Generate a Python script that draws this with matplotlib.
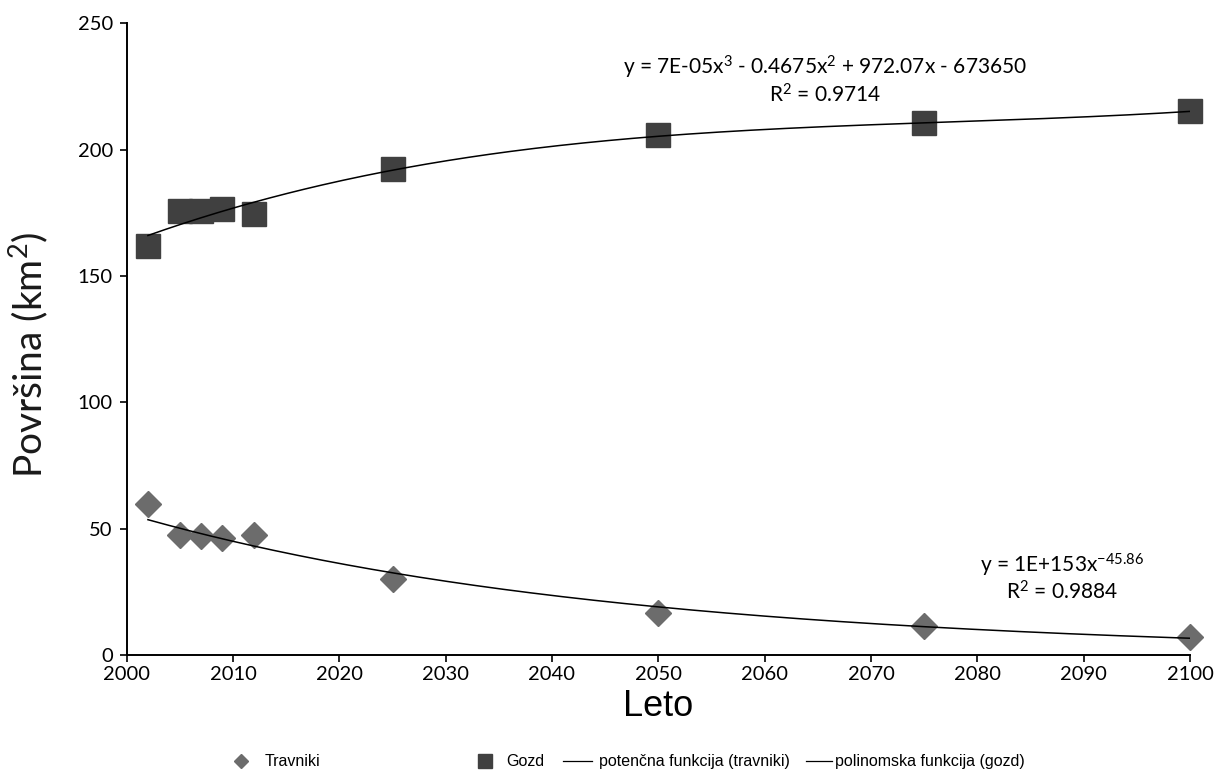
import numpy as np
import matplotlib
matplotlib.use("Agg")
import matplotlib.pyplot as plt
from matplotlib.lines import Line2D

years = [2002, 2005, 2007, 2009, 2012, 2025, 2050, 2075, 2100]
gozd = [161.8, 175.6, 175.6, 176.4, 174.4, 192.2, 205.7, 210.4, 215.2]
travniki = [59.7, 47.5, 47.0, 46.3, 47.5, 30.0, 16.6, 11.5, 7.1]

xticks = list(range(2000, 2101, 10))
yticks = [0, 50, 100, 150, 200, 250]

plt.rcParams['font.family'] = ['Lato', 'DejaVu Sans']
plt.rcParams['mathtext.fontset'] = 'custom'
plt.rcParams['mathtext.rm'] = 'Lato'
plt.rcParams['mathtext.it'] = 'Lato'
plt.rcParams['mathtext.default'] = 'regular'

fig = plt.figure(figsize=(12.18, 7.78), dpi=100)
ax = fig.add_axes([0.104, 0.158, 0.873, 0.812])

yr = np.array(years, dtype=float)
xs = np.linspace(2002, 2100, 300)
# polynomial (cubic) trend for gozd
pc = np.polyfit(yr - 2050, gozd, 3)
ax.plot(xs, np.polyval(pc, xs - 2050), color='black', lw=1.1, zorder=3)
# power trend for travniki
pp = np.polyfit(np.log(yr), np.log(travniki), 1)
ax.plot(xs, np.exp(np.polyval(pp, np.log(xs))), color='black', lw=1.1, zorder=3)

ax.plot(years, gozd, linestyle='none', marker='s', markersize=17,
        color='#404040', markeredgecolor='#404040', zorder=2, clip_on=False)
ax.plot(years, travniki, linestyle='none', marker='D', markersize=13.5,
        color='#6c6c6c', markeredgecolor='#6c6c6c', zorder=2, clip_on=False)

ax.set_xlim(2000, 2100)
ax.set_ylim(0, 250)
ax.set_xticks(xticks)
ax.set_yticks(yticks)
ax.tick_params(axis='both', labelsize=14.5, direction='out', length=5, width=1.2,
               colors='black')
ax.tick_params(axis='x', pad=3)
ax.tick_params(axis='y', pad=5)
for s in ['top', 'right']:
    ax.spines[s].set_visible(False)
for s in ['left', 'bottom']:
    ax.spines[s].set_linewidth(1.4)

ax.set_xlabel('Leto', fontsize=26, family=['Liberation Sans'])
ax.xaxis.set_label_coords(0.5, -0.054)
ax.set_ylabel('Površina (km$^2$)', fontsize=28, color='#1a1a1a')
ax.yaxis.set_label_coords(-0.072, 0.475)

ax.text(2065.7, 232.5, 'y = 7E-05x$^3$ - 0.4675x$^2$ + 972.07x - 673650',
        ha='center', va='center', fontsize=15)
ax.text(2065.7, 221.5, 'R$^2$ = 0.9714', ha='center', va='center', fontsize=15)
ax.text(2088, 35.5, 'y = 1E+153x$^{-45.86}$', ha='center', va='center', fontsize=15)
ax.text(2088, 25, 'R$^2$ = 0.9884', ha='center', va='center', fontsize=15)

legend_items = [
    (Line2D([], [], linestyle='none', marker='D', markersize=7, color='#6c6c6c'),
     'Travniki', 233.5, 1.0, 0.95),
    (Line2D([], [], linestyle='none', marker='s', markersize=10, color='#404040'),
     'Gozd', 477.5, 1.0, 0.8),
    (Line2D([], [], color='black', lw=0.9), 'potenčna funkcija (travniki)', 563, 1.8, 0.45),
    (Line2D([], [], color='black', lw=0.9), 'polinomska funkcija (gozd)', 806, 1.6, 0.2),
]
for h, lab, xpix, hl, tp in legend_items:
    fig.legend([h], [lab], loc='center left', bbox_to_anchor=(xpix / 1218, 0.0206),
               frameon=False, prop={'family': 'Liberation Sans', 'size': 11.5},
               handlelength=hl, handletextpad=tp, borderpad=0, borderaxespad=0)

fig.savefig('out.png', dpi=100)
